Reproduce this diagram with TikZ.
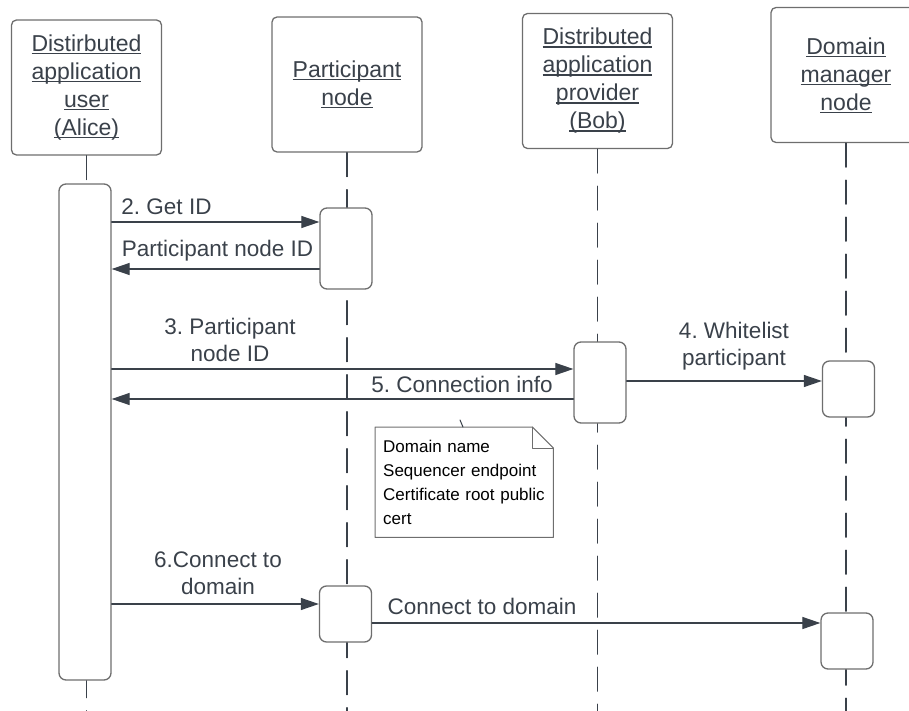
\documentclass[tikz,border=0pt]{standalone}
\usepackage{fontspec}
\setmainfont{Liberation Sans}
\frenchspacing
\usetikzlibrary{calc,arrows.meta}
\definecolor{ink}{HTML}{3A414A}
\definecolor{frame}{HTML}{6E6E6E}
% underline that crosses the descenders, as in the header boxes
\newcommand{\uln}[1]{\setbox0\hbox{#1}\rlap{\rule[-2.6pt]{\wd0}{1.1pt}}\box0}
\tikzset{
    head/.style={
        draw=frame, line width=1.3pt, rounded corners=5pt, fill=white,
        minimum width=150pt, minimum height=135pt, text=ink, align=center,
        font=\fontsize{23}{28}\selectfont
    },
    act/.style={
        draw=frame, line width=1.3pt, rounded corners=7pt, fill=white,
        minimum width=52pt
    },
    life/.style={draw=ink, line width=1.2pt, dash pattern=on 24pt off 13pt},
    msg/.style={draw=ink, line width=1.2pt, -{Triangle[length=18pt,width=12pt]}},
    lab/.style={
        text=ink, align=center, inner sep=0pt,
        font=\fontsize{22.5}{26.5}\selectfont
    },
    notetxt/.style={
        text=black, align=left, font=\fontsize{17}{24}\selectfont
    }
}

\begin{document}
\begin{tikzpicture}[x=1pt,y=-1pt,line cap=round,line join=round]

% --- geometry ---
    \clip (0,0) rectangle (909,711);
    \coordinate (bottom) at (0,711);   % lower end of the lifelines
    \def\yGet{222}                      % 2. Get ID
    \def\yId{269}                       % reply with the node ID
    \def\yPid{369}                      % 3. Participant node ID
    \def\yInfo{399}                     % 5. Connection info
    \def\yWhite{381}                    % 4. Whitelist participant
    \def\yConA{604}                     % 6. Connect to domain
    \def\yConB{623}                     % forwarded to the domain manager

% header boxes
    \node[head] (alice) at (86.5,87.5)
        {\uln{Distirbuted}\\\uln{application}\\\uln{user}\\\uln{(Alice)}};
    \node[head] (part) at (347,84.5) {\uln{Participant}\\\uln{node}};
    \node[head] (bob) at (597.5,81)
        {\uln{Distributed}\\\uln{application}\\\uln{provider}\\\uln{(Bob)}};
    \node[head] (dom) at (846,75) {\uln{Domain}\\\uln{manager}\\\uln{node}};

% lifelines
    \draw[life] (alice.south) -- (alice.south |- bottom);
    \draw[life] (part.south) -- (part.south |- bottom);
    \draw[life] (bob.south) -- (bob.south |- bottom);
    \draw[life] (dom.south) -- (dom.south |- bottom);

% activation boxes
    \node[act, minimum height=496pt] (aliceAct) at (85,432) {};
    \node[act, minimum height=81pt] (partAct1) at (346,248.5) {};
    \node[act, minimum height=81pt] (bobAct) at (600,382.5) {};
    \node[act, minimum height=56pt] (domAct1) at (848.5,389) {};
    \node[act, minimum height=56pt] (partAct2) at (345.5,614) {};
    \node[act, minimum height=56pt] (domAct2) at (847,641) {};

% messages
    \draw[msg] (aliceAct.east |- 0,\yGet) -- (partAct1.west |- 0,\yGet);
    \draw[msg] (partAct1.west |- 0,\yId) -- (aliceAct.east |- 0,\yId);
    \draw[msg] (aliceAct.east |- 0,\yPid) -- (bobAct.west |- 0,\yPid);
    \draw[msg] (bobAct.west |- 0,\yInfo) -- (aliceAct.east |- 0,\yInfo);
    \draw[msg] (bobAct.east |- 0,\yWhite) -- (domAct1.west |- 0,\yWhite);
    \draw[msg] (aliceAct.east |- 0,\yConA) -- (partAct2.west |- 0,\yConA);
    \draw[msg] (partAct2.east |- 0,\yConB) -- (domAct2.west |- 0,\yConB);

% message labels
    \node[lab] (getLab) at (166.5,207) {2. Get ID};
    \node[lab] (idLab) at (217.5,251) {Participant node ID};
    \node[lab] (pidLab) at (230,340) {3. Participant\\node ID};
    \node[lab] (infoLab) at (462,384) {5. Connection info};
    \node[lab] (whiteLab) at (734,346) {4. Whitelist\\participant};
    \node[lab] (conALab) at (218,573) {6.Connect to\\domain};
    \node[lab] (conBLab) at (482,606) {Connect to domain};

% note with the connection info
    \node[notetxt, anchor=north west, minimum width=178pt, minimum height=110pt,
          text width=162pt, inner xsep=8pt] (note) at (375,427)
        {Domain name\\Sequencer endpoint\\Certificate root public\\cert};
    \draw[draw=frame, line width=1pt]
        (note.north west) -- ($(note.north east)+(-21,0)$)
        -- ($(note.north east)+(0,21)$) -- (note.south east)
        -- (note.south west) -- cycle;
    \draw[draw=frame, line width=1pt]
        ($(note.north east)+(-21,0)$) |- ($(note.north east)+(0,21)$);
    \coordinate (noteTip) at (460,420);
    \draw[draw=ink, line width=1pt] (note.north west -| 463,0) -- (noteTip);

\end{tikzpicture}
\end{document}
